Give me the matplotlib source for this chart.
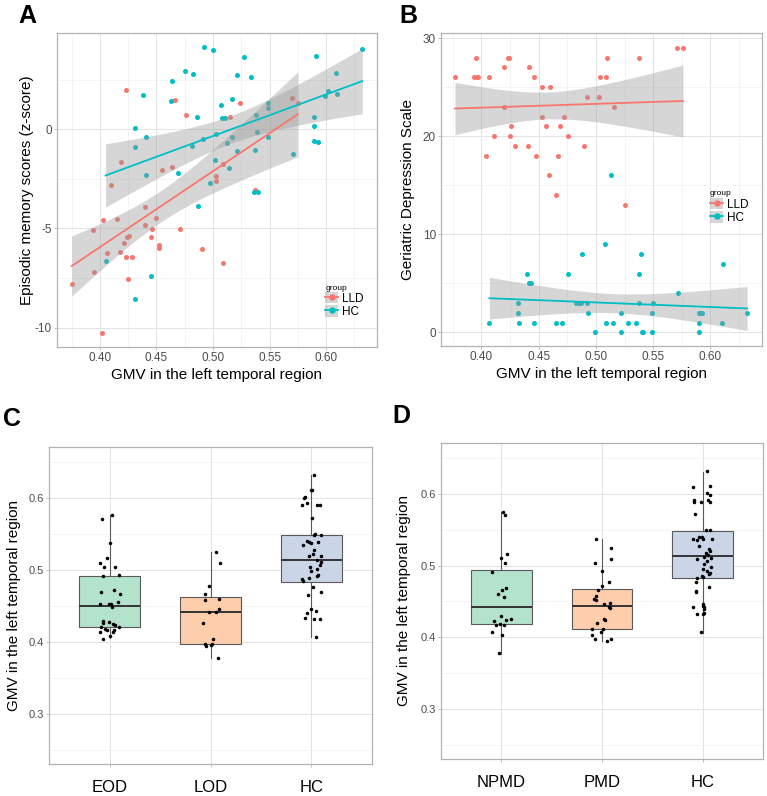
import numpy as np
import matplotlib
matplotlib.use('Agg')
import matplotlib.pyplot as plt
from matplotlib.patches import Patch
from matplotlib.lines import Line2D

plt.rcParams['font.family'] = ['Liberation Sans', 'DejaVu Sans']
plt.rcParams['axes.unicode_minus'] = False

# --- panel A: GMV vs episodic memory ---
lld_gmv_a = [0.375, 0.402, 0.394, 0.395, 0.403, 0.406, 0.410, 0.415, 0.419, 0.418,
             0.421, 0.423, 0.423, 0.424, 0.426, 0.425, 0.428, 0.440, 0.440, 0.445,
             0.446, 0.450, 0.452, 0.452, 0.455, 0.464, 0.466, 0.471, 0.476, 0.490,
             0.503, 0.503, 0.509, 0.509, 0.515, 0.524, 0.537, 0.570, 0.575]
lld_mem = [-7.80, -10.27, -5.08, -7.22, -4.58, -6.26, -2.81, -4.51, -1.68, -6.21,
           -5.76, 1.99, -6.43, -5.46, -5.37, -7.54, -6.42, -3.91, -4.83, -5.42,
           -5.05, -4.50, -5.83, -6.01, -2.07, -1.89, 1.48, -5.04, 0.71, -6.06,
           -2.34, -2.59, -6.77, -1.78, 0.62, 1.33, -3.06, 1.55, 1.31]
hc_gmv_a = [0.405, 0.431, 0.431, 0.431, 0.438, 0.441, 0.441, 0.445, 0.463, 0.464,
            0.469, 0.475, 0.481, 0.482, 0.486, 0.487, 0.491, 0.492, 0.497, 0.500,
            0.502, 0.503, 0.507, 0.508, 0.511, 0.512, 0.514, 0.517, 0.517, 0.521,
            0.521, 0.527, 0.534, 0.536, 0.537, 0.538, 0.539, 0.540, 0.549, 0.549,
            0.549, 0.571, 0.589, 0.589, 0.589, 0.593, 0.591, 0.599, 0.602, 0.609,
            0.610, 0.632]
hc_mem = [-6.67, 0.08, -0.88, -8.54, 1.72, -0.42, -2.29, -7.38, 1.43, 2.43,
          -2.22, 2.91, -0.84, 2.80, 0.61, -3.87, -0.51, 4.14, -2.69, 3.99,
          -1.55, -0.24, 1.21, 0.56, 0.56, -0.71, -1.94, 1.50, -0.42, 2.74,
          -1.08, 3.64, 2.63, -3.18, -1.03, 0.69, -0.15, -3.15, 1.31, 1.09,
          -0.37, -1.23, 0.61, 0.17, -0.62, -0.67, 3.67, 1.65, 1.90, 2.83,
          1.77, 4.04]

# --- panel B: GMV vs GDS ---
lld_gmv_b = [0.377, 0.394, 0.396, 0.397, 0.395, 0.404, 0.407, 0.411, 0.420, 0.420,
             0.423, 0.424, 0.425, 0.426, 0.429, 0.441, 0.442, 0.446, 0.448, 0.453,
             0.453, 0.456, 0.459, 0.460, 0.465, 0.467, 0.469, 0.472, 0.476, 0.490,
             0.492, 0.503, 0.504, 0.509, 0.510, 0.516, 0.525, 0.538, 0.571, 0.576]
lld_gds = [26, 26, 26, 26, 28, 18, 26, 20, 23, 27,
           28, 28, 20, 21, 19, 19, 27, 26, 18, 22,
           25, 21, 16, 25, 14, 18, 21, 22, 20, 19,
           24, 24, 26, 26, 28, 23, 13, 28, 29, 29]
hc_gmv_b = [0.407, 0.432, 0.432, 0.433, 0.440, 0.442, 0.443, 0.446, 0.465, 0.470,
            0.476, 0.483, 0.485, 0.487, 0.488, 0.492, 0.493, 0.499, 0.508, 0.509,
            0.513, 0.515, 0.522, 0.522, 0.528, 0.535, 0.538, 0.538, 0.539, 0.540,
            0.541, 0.549, 0.549, 0.550, 0.572, 0.590, 0.591, 0.593, 0.590, 0.590,
            0.610, 0.611, 0.632]
hc_gds = [1, 3, 2, 1, 6, 5, 5, 1, 1, 1,
          6, 3, 3, 3, 8, 3, 2, 0, 9, 1,
          16, 1, 2, 0, 1, 1, 3, 6, 8, 0,
          0, 0, 2, 3, 4, 2, 2, 2, 1, 0,
          1, 7, 2]

# --- panel C: EOD / LOD / HC ---
c_groups = ['EOD', 'LOD', 'HC']
c_whislo = [0.405, 0.3775, 0.4065]
c_q1 = [0.4203, 0.3967, 0.4833]
c_med = [0.4500, 0.4420, 0.5139]
c_q3 = [0.4913, 0.4617, 0.5490]
c_whishi = [0.5768, 0.5249, 0.6320]
eod_gmv = [0.571, 0.576, 0.538, 0.517, 0.510, 0.504, 0.504, 0.491, 0.4925, 0.470,
           0.472, 0.467, 0.453, 0.456, 0.452, 0.4528, 0.448, 0.4296, 0.426, 0.427,
           0.4254, 0.421, 0.4185, 0.423, 0.420, 0.413, 0.416, 0.408, 0.414, 0.4046,
           0.4167]
eod_jit = [-0.076, 0.02, 0.003, -0.03, -0.09, -0.056, 0.056, -0.064, 0.095, -0.083,
           0.046, 0.099, -0.09, 0.085, -0.007, 0.01, 0.02, -0.07, -0.07, -0.004,
           0.03, -0.08, -0.05, 0.05, 0.09, -0.09, -0.03, 0.006, 0.03, -0.07,
           0.04]
lod_gmv = [0.525, 0.510, 0.477, 0.466, 0.4588, 0.460, 0.446, 0.442, 0.442, 0.4268,
           0.4036, 0.3967, 0.3944, 0.395, 0.397, 0.378]
lod_jit = [0.053, 0.09, -0.016, -0.05, -0.056, 0.083, 0.08, -0.016, 0.053, -0.075,
           0.027, -0.05, -0.043, 0.0, 0.013, 0.07]
hc_gmv_c = [0.632, 0.6106, 0.6115, 0.602, 0.600, 0.590, 0.593, 0.5907, 0.590, 0.5726,
            0.549, 0.550, 0.549, 0.5407, 0.539, 0.5375, 0.535, 0.539, 0.528, 0.5226,
            0.519, 0.519, 0.514, 0.511, 0.507, 0.5046, 0.502, 0.499, 0.4935, 0.492,
            0.487, 0.484, 0.489, 0.4764, 0.470, 0.465, 0.446, 0.4407, 0.4425, 0.433,
            0.4324, 0.4324, 0.407]
hc_jit_c = [0.03, 0.0, 0.01, -0.06, -0.075, -0.09, -0.04, 0.06, 0.083, 0.007,
            0.024, 0.037, 0.09, -0.04, -0.026, -0.006, -0.08, 0.063, 0.024, 0.02,
            -0.023, 0.093, 0.053, 0.096, 0.083, -0.01, 0.06, 0.0, 0.063, 0.057,
            -0.09, -0.085, -0.026, 0.014, 0.09, -0.03, -0.006, -0.046, 0.05, -0.066,
            0.03, 0.086, 0.047]

# --- panel D: NPMD / PMD / HC ---
d_groups = ['NPMD', 'PMD', 'HC']
d_whislo = [0.3765, 0.394, 0.4065]
d_q1 = [0.4185, 0.4115, 0.4827]
d_med = [0.4425, 0.4437, 0.5136]
d_q3 = [0.4932, 0.4679, 0.5486]
d_whishi = [0.575, 0.5367, 0.630]
npmd_gmv = [0.575, 0.5704, 0.516, 0.510, 0.5035, 0.491, 0.469, 0.4655, 0.460, 0.4558,
            0.429, 0.4226, 0.4245, 0.425, 0.4176, 0.419, 0.4166, 0.4073, 0.403, 0.3774]
npmd_jit = [0.02, 0.036, 0.06, 0.0, 0.033, -0.093, 0.05, 0.003, -0.037, 0.026,
            -0.007, -0.076, 0.05, 0.092, -0.056, -0.017, 0.023, -0.096, 0.003, -0.02]
pmd_gmv = [0.5367, 0.5242, 0.5035, 0.509, 0.4918, 0.4766, 0.471, 0.466, 0.458, 0.453,
           0.4512, 0.4457, 0.447, 0.4416, 0.4411, 0.426, 0.424, 0.4194, 0.412, 0.4115,
           0.4074, 0.4037, 0.3968, 0.394, 0.3968]
pmd_jit = [-0.06, 0.093, -0.072, 0.086, 0.0, 0.066, 0.0, -0.036, -0.06, -0.08,
           -0.055, 0.023, 0.08, 0.07, 0.083, 0.023, 0.03, -0.052, 0.007, -0.1,
           -0.007, -0.095, -0.07, 0.046, 0.093]
hc_gmv_d = [0.6313, 0.6096, 0.6105, 0.6018, 0.599, 0.592, 0.5893, 0.5893, 0.591, 0.5888,
            0.5717, 0.549, 0.549, 0.537, 0.5357, 0.5395, 0.5395, 0.5375, 0.5367, 0.5274,
            0.5228, 0.520, 0.518, 0.515, 0.5122, 0.5108, 0.509, 0.5066, 0.502, 0.498,
            0.495, 0.4928, 0.4896, 0.4877, 0.486, 0.4845, 0.4822, 0.4776, 0.4697, 0.4641,
            0.4627, 0.4467, 0.4416, 0.443, 0.442, 0.4398, 0.4323, 0.4318, 0.4332, 0.4069]
hc_jit_d = [0.046, -0.1, 0.073, 0.04, 0.07, -0.09, -0.085, -0.02, 0.056, 0.076,
            -0.072, 0.037, 0.07, -0.095, -0.055, -0.033, -0.01, 0.007, 0.093, -0.033,
            0.063, 0.076, 0.037, 0.05, 0.017, 0.08, -0.055, 0.043, 0.017, 0.086,
            0.004, 0.04, 0.07, 0.063, -0.003, 0.004, -0.06, -0.062, 0.066, -0.066,
            -0.07, 0.004, 0.017, 0.0, -0.1, 0.01, -0.06, 0.0, 0.013, -0.013]

red = '#F8766D'
blue = '#00BFC4'
fills = ['#B3E2CD', '#FDCDAC', '#CBD5E8']
frame = '#B3B3B3'


def base_style(ax, tick_size):
    for sp in ax.spines.values():
        sp.set_color(frame)
        sp.set_linewidth(0.9)
    ax.set_axisbelow(True)
    ax.grid(which='major', color='#E3E3E3', lw=0.7)
    ax.grid(which='minor', color='#F0F0F0', lw=0.5)
    ax.tick_params(which='major', length=2.2, width=0.6, color=frame,
                   labelcolor='#4D4D4D', labelsize=tick_size, pad=1.5)
    ax.tick_params(which='minor', length=0)


def smooth(ax, x, y, color):
    x = np.asarray(x, float)
    y = np.asarray(y, float)
    n = len(x)
    b, a = np.polyfit(x, y, 1)
    xs = np.linspace(x.min(), x.max(), 80)
    fit = a + b * xs
    s = np.sqrt(np.sum((y - (a + b * x)) ** 2) / (n - 2))
    se = s * np.sqrt(1 / n + (xs - x.mean()) ** 2 / np.sum((x - x.mean()) ** 2))
    ax.fill_between(xs, fit - 2.02 * se, fit + 2.02 * se, color='#999999',
                    alpha=0.4, lw=0, zorder=3)
    ax.plot(xs, fit, color=color, lw=1.3, zorder=4)


def group_legend(ax, anchor):
    handles = [(Patch(facecolor='#999999', alpha=0.4, edgecolor='none'),
                Line2D([], [], color=c, lw=1.3, marker='o', ms=3.6)) for c in (red, blue)]
    ax.legend(handles, ['LLD', 'HC'], title='group', loc='lower left',
              bbox_to_anchor=anchor, frameon=False, fontsize=8.5, title_fontsize=6,
              handlelength=1.1, handleheight=1.1, labelspacing=0.05,
              handletextpad=0.3, borderpad=0, borderaxespad=0, alignment='left')


def scatter_panel(ax, xl, yl, xr, yr, ylabel, ypad):
    ax.scatter(xl, yl, s=13, color=red, lw=0, zorder=2)
    ax.scatter(xr, yr, s=13, color=blue, lw=0, zorder=2)
    smooth(ax, xl, yl, red)
    smooth(ax, xr, yr, blue)
    ax.set_xticks([0.40, 0.45, 0.50, 0.55, 0.60])
    ax.set_xticklabels(['0.40', '0.45', '0.50', '0.55', '0.60'])
    ax.set_xticks([0.375, 0.425, 0.475, 0.525, 0.575, 0.625], minor=True)
    ax.set_xlabel('GMV in the left temporal region', fontsize=11, labelpad=3)
    ax.set_ylabel(ylabel, fontsize=11, labelpad=ypad)
    base_style(ax, 8.5)


def box_panel(ax, labels, lo, q1, med, q3, hi, values, jitters, ypad):
    stats = [dict(whislo=lo[i], q1=q1[i], med=med[i], q3=q3[i], whishi=hi[i], fliers=[])
             for i in range(len(labels))]
    bp = ax.bxp(stats, positions=[1, 2, 3], widths=0.6, patch_artist=True,
                showcaps=False, showfliers=False,
                boxprops=dict(edgecolor='#5A5A5A', linewidth=0.8),
                whiskerprops=dict(color='#5A5A5A', lw=0.8),
                medianprops=dict(color='#333333', lw=1.4))
    for patch, c in zip(bp['boxes'], fills):
        patch.set_facecolor(c)
    for i, (v, j) in enumerate(zip(values, jitters)):
        ax.scatter(i + 1 + np.asarray(j), v, s=6.5, color='black', lw=0, zorder=5)
    ax.set_xlim(0.4, 3.6)
    ax.set_ylim(0.23, 0.671)
    ax.set_xticks([1, 2, 3])
    ax.set_xticklabels(labels)
    ax.set_yticks([0.3, 0.4, 0.5, 0.6])
    ax.set_yticklabels(['0.3', '0.4', '0.5', '0.6'])
    ax.set_yticks([0.25, 0.35, 0.45, 0.55, 0.65], minor=True)
    ax.set_ylabel('GMV in the left temporal region', fontsize=11, labelpad=ypad)
    base_style(ax, 8)
    ax.tick_params(axis='x', labelsize=12, labelcolor='black', pad=9)


fig = plt.figure(figsize=(7.67, 7.96), dpi=100)

axA = fig.add_axes([0.0743, 0.5641, 0.4172, 0.3945])
scatter_panel(axA, lld_gmv_a, lld_mem, hc_gmv_a, hc_mem,
              'Episodic memory scores (z-score)', 0.5)
axA.set_xlim(0.362, 0.645)
axA.set_ylim(-10.98, 4.85)
axA.set_yticks([-10, -5, 0])
axA.set_yticks([-7.5, -2.5, 2.5], minor=True)
group_legend(axA, (0.838, 0.092))

axB = fig.add_axes([0.575, 0.5653, 0.4185, 0.3932])
scatter_panel(axB, lld_gmv_b, lld_gds, hc_gmv_b, hc_gds, 'Geriatric Depression Scale', 5.5)
axB.set_xlim(0.3648, 0.645)
axB.set_ylim(-1.39, 30.51)
axB.set_yticks([0, 10, 20, 30])
axB.set_yticks([5, 15, 25], minor=True)
group_legend(axB, (0.838, 0.39))

axC = fig.add_axes([0.0639, 0.0402, 0.4211, 0.3982])
box_panel(axC, c_groups, c_whislo, c_q1, c_med, c_q3, c_whishi,
          [eod_gmv, lod_gmv, hc_gmv_c], [eod_jit, lod_jit, hc_jit_c], 5.5)

axD = fig.add_axes([0.575, 0.0465, 0.4198, 0.397])
box_panel(axD, d_groups, d_whislo, d_q1, d_med, d_q3, d_whishi,
          [npmd_gmv, pmd_gmv, hc_gmv_d], [npmd_jit, pmd_jit, hc_jit_d], 6.5)

for lab, x, y in [('A', 18, 4), ('B', 399, 4), ('C', 3, 407), ('D', 392, 404)]:
    fig.text(x / 767, 1 - y / 796, lab, fontsize=18, fontweight='bold',
             ha='left', va='top')

fig.savefig('out.png', dpi=100)
